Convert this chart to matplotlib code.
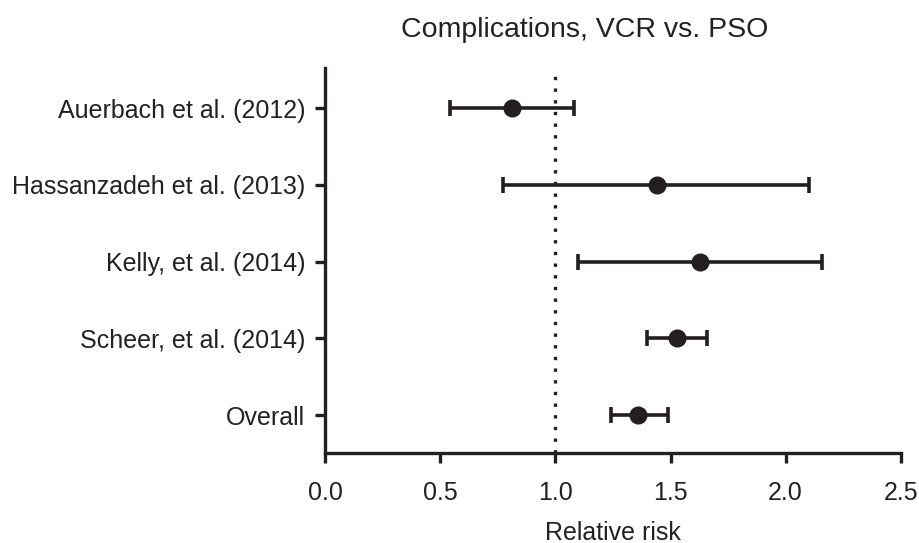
import matplotlib
matplotlib.use('Agg')
import matplotlib.pyplot as plt

# study labels, top to bottom
studies = ['Auerbach et al. (2012)', 'Hassanzadeh et al. (2013)', 'Kelly, et al. (2014)',
           'Scheer, et al. (2014)', 'Overall']
# relative risk with lower / upper confidence limits
rr = [0.81, 1.44, 1.63, 1.53, 1.36]
lower = [0.54, 0.77, 1.10, 1.40, 1.24]
upper = [1.08, 2.10, 2.16, 1.66, 1.49]
xticks = [0.0, 0.5, 1.0, 1.5, 2.0, 2.5]

plt.rcParams['font.family'] = ['Liberation Sans', 'DejaVu Sans']
ink = '#231f20'
txt = '#222222'

fig = plt.figure(figsize=(9.19, 5.43), dpi=100)
ax = fig.add_axes([0.354, 0.166, 0.626, 0.709])

ypos = list(range(len(studies)))[::-1]
xerr = [[r - lo for r, lo in zip(rr, lower)], [hi - r for r, hi in zip(rr, upper)]]
ax.errorbar(rr, ypos, xerr=xerr, fmt='o', color=ink, ecolor=ink, elinewidth=2.6,
            capsize=5.6, capthick=2.6, markersize=12, zorder=3)

# reference line at no effect
ax.axvline(1.0, color=ink, linewidth=2.4, linestyle=(0, (1, 2.5)), zorder=1)

ax.set_xlim(0, 2.5)
ax.set_ylim(-0.49, 4.525)
ax.set_xticks(xticks)
ax.set_xticklabels(['%.1f' % t for t in xticks])
ax.set_yticks(ypos)
ax.set_yticklabels(studies)

for s in ['top', 'right']:
    ax.spines[s].set_visible(False)
for s in ['left', 'bottom']:
    ax.spines[s].set_linewidth(2.4)
    ax.spines[s].set_color(ink)
ax.tick_params(axis='both', length=7.5, width=2.4, color=ink, labelsize=18,
               labelcolor=txt)
ax.tick_params(axis='x', pad=13)
ax.tick_params(axis='y', pad=7)

ax.set_xlabel('Relative risk', fontsize=18, color=txt, labelpad=11)
fig.text(585 / 919, 1 - 30 / 543, 'Complications, VCR vs. PSO', fontsize=20.5,
         color=txt, ha='center', va='center')

fig.savefig('out.png', dpi=100)
